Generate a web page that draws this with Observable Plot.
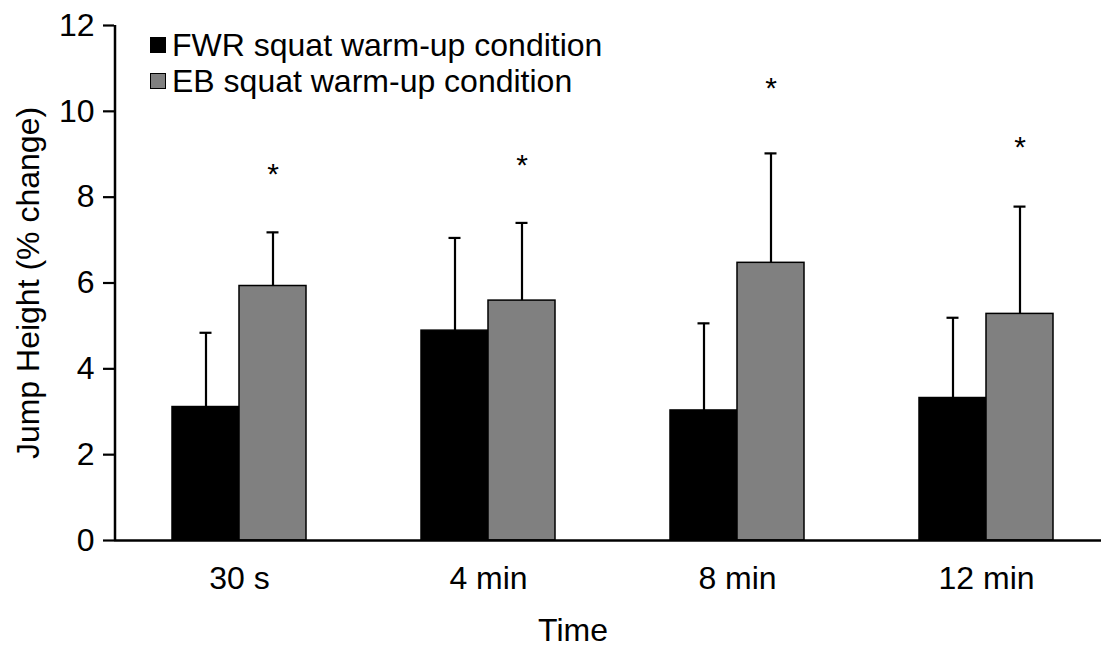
<!DOCTYPE html>
<html>
<head>
<meta charset="utf-8">
<script src="https://cdn.jsdelivr.net/npm/d3@7"></script>
<script src="https://cdn.jsdelivr.net/npm/@observablehq/plot@0.6"></script>
<style>
  html, body { margin: 0; padding: 0; background: #fff; }
  #wrap { position: relative; width: 1101px; height: 646px; font-family: "Liberation Sans", Arial, sans-serif; }
  .legend { position: absolute; left: 150px; top: 27px; font-size: 32px; color: #000; line-height: 36px; }
  .legend div { display: flex; align-items: center; white-space: nowrap; }
  .sw { width: 16px; height: 16px; box-sizing: border-box; border: 1.5px solid #000; margin-right: 6px; }
</style>
</head>
<body>
<div id="wrap"></div>
<script>
const times = ["30 s", "4 min", "8 min", "12 min"];
const series = ["FWR squat warm-up condition", "EB squat warm-up condition"];
const colors = ["#000000", "#808080"];
const fwrMean = [3.11, 4.89, 3.03, 3.32];
const fwrSD   = [1.73, 2.16, 2.03, 1.87];
const ebMean  = [5.93, 5.59, 6.47, 5.28];
const ebSD    = [1.25, 1.81, 2.55, 2.50];
const starY   = [8.61, 8.82, 10.60, 9.23];
const yTicks  = [0, 2, 4, 6, 8, 10, 12];

const rows = [];
times.forEach((t, i) => {
  rows.push({time: t, s: 0, mean: fwrMean[i], hi: fwrMean[i] + fwrSD[i]});
  rows.push({time: t, s: 1, mean: ebMean[i], hi: ebMean[i] + ebSD[i]});
});
const fwr = rows.filter(d => d.s === 0);
const eb = rows.filter(d => d.s === 1);
const stars = times.map((t, i) => ({time: t, y: starY[i]}));

const bw = 134, half = bw / 2, cap = 6;
const chart = Plot.plot({
  width: 1101,
  height: 646,
  marginLeft: 114,
  marginTop: 25,
  marginBottom: 106,
  marginRight: 0,
  style: {fontFamily: "'Liberation Sans', Arial, sans-serif", fontSize: "32px", color: "#000", background: "#fff"},
  x: {domain: times, range: [114, 1110], paddingInner: 0.462, paddingOuter: 0.231, label: null},
  y: {domain: [0, 12], label: null},
  marks: [
    // error bars (up only)
    Plot.ruleX(fwr, {x: "time", y1: "mean", y2: "hi", dx: -half / 2, stroke: "#000", strokeWidth: 2.2}),
    Plot.ruleX(eb, {x: "time", y1: "mean", y2: "hi", dx: half / 2, stroke: "#000", strokeWidth: 2.2}),
    Plot.tickY(fwr, {x: "time", y: "hi", insetLeft: half / 2 - cap, insetRight: bw - half / 2 - cap, stroke: "#000", strokeWidth: 2.2}),
    Plot.tickY(eb, {x: "time", y: "hi", insetLeft: half + half / 2 - cap, insetRight: half / 2 - cap, stroke: "#000", strokeWidth: 2.2}),
    // bars
    Plot.barY(fwr, {x: "time", y: "mean", insetRight: half, fill: colors[0], stroke: "#000", strokeWidth: 1.5}),
    Plot.barY(eb, {x: "time", y: "mean", insetLeft: half, fill: colors[1], stroke: "#000", strokeWidth: 1.5}),
    // asterisks
    Plot.text(stars, {x: "time", y: "y", text: () => "*", dx: half / 2, dy: 3, fontSize: 30}),
    // axes
    Plot.ruleY([0], {stroke: "#000", strokeWidth: 2.5}),
    Plot.axisY({ticks: yTicks, tickSize: 11, tickPadding: 9, strokeWidth: 2.2, fontSize: 32, label: null}),
    Plot.ruleX(times.slice(0, 1), {x: d => d, dx: -124.5, y1: 0, y2: 12, stroke: "#000", strokeWidth: 2.5}),
    Plot.axisX({tickSize: 0, tickPadding: 26, fontSize: 32, label: null}),
    Plot.text(["Jump Height (% change)"], {frameAnchor: "left", textAnchor: "middle", rotate: -90, dx: -86, fontSize: 32}),
    Plot.text(["Time"], {frameAnchor: "bottom", dx: -35, dy: 100, fontSize: 32})
  ]
});

const wrap = document.getElementById("wrap");
wrap.appendChild(chart);
const lg = document.createElement("div");
lg.className = "legend";
series.forEach((s, i) => {
  const row = document.createElement("div");
  const sw = document.createElement("span");
  sw.className = "sw";
  sw.style.background = colors[i];
  const tx = document.createElement("span");
  tx.textContent = s;
  row.appendChild(sw);
  row.appendChild(tx);
  lg.appendChild(row);
});
wrap.appendChild(lg);
</script>
</body>
</html>
